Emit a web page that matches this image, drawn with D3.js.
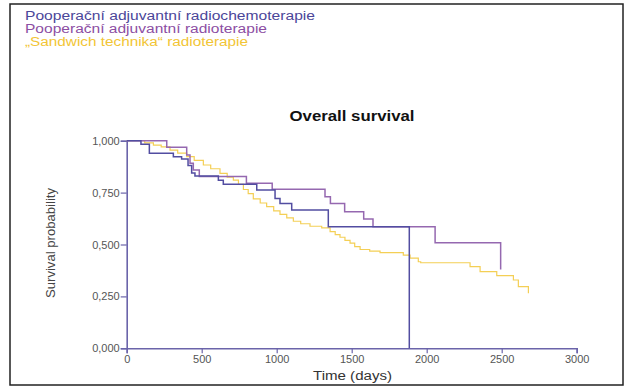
<!DOCTYPE html>
<html><head><meta charset="utf-8">
<script src="https://cdn.jsdelivr.net/npm/d3@7"></script>
<style>body{margin:0;background:#fff}svg{display:block}text{font-family:"Liberation Sans",Arial,sans-serif}</style>
</head><body>
<script>
// ---- data ----
const seriesNames = ["Pooperační adjuvantní radiochemoterapie", "Pooperační adjuvantní radioterapie", "„Sandwich technika“ radioterapie"];
const xTicks = [0, 500, 1000, 1500, 2000, 2500, 3000];
const yTicks = [0, 0.25, 0.5, 0.75, 1];
// Kaplan-Meier steps: [time (days), survival probability after step]
const radiochemo = [[0,1],[95,0.983],[151,0.939],[311,0.923],[366,0.912],[409,0.88],[433,0.845],[455,0.83],[611,0.81],[644,0.79],[867,0.763],[989,0.722],[1022,0.698],[1100,0.666],[1344,0.586],[1884,0.586],[1884,0]];
const radio = [[0,1],[267,0.968],[400,0.931],[422,0.891],[444,0.859],[484,0.827],[798,0.795],[970,0.766],[1322,0.73],[1358,0.697],[1453,0.658],[1580,0.623],[1642,0.586],[2056,0.509],[2493,0.509],[2493,0.38]];
const sandwich = [[0,1],[90,1],[120,0.99],[178,0.979],[230,0.97],[289,0.955],[340,0.94],[400,0.923],[450,0.905],[511,0.883],[560,0.865],[622,0.843],[670,0.825],[711,0.81],[745,0.79],[778,0.765],[810,0.745],[844,0.72],[890,0.70],[933,0.682],[980,0.662],[1022,0.645],[1067,0.628],[1111,0.612],[1160,0.60],[1222,0.588],[1300,0.58],[1356,0.562],[1390,0.548],[1422,0.535],[1455,0.52],[1489,0.507],[1520,0.49],[1556,0.476],[1620,0.468],[1689,0.461],[1844,0.449],[1889,0.434],[1944,0.417],[1960,0.412],[2289,0.393],[2356,0.369],[2467,0.35],[2578,0.329],[2611,0.297],[2678,0.289],[2678,0.265]];
const series = [radiochemo, radio, sandwich];
const colors = ["#524da1", "#9568b0", "#f4cf55"];
const textColors = ["#4b4699", "#8c4ea3", "#f2c535"];

const W = 627, H = 387;
const svg = d3.select("body").append("svg").attr("width", W).attr("height", H);
svg.append("rect").attr("x", 10).attr("y", 4).attr("width", 613).attr("height", 381)
  .attr("fill", "#fff").attr("stroke", "#222").attr("stroke-width", 1.5);

const x = d3.scaleLinear().domain([0, 3000]).range([126.7, 576.7]);
const y = d3.scaleLinear().domain([0, 1]).range([348.3, 140.7]);
const axisColor = "#6b64aa";

// legend
const legendW = [290, 242, 223];
seriesNames.forEach((n, i) => {
  svg.append("text").attr("x", 25).attr("y", 20 + i * 12.8).attr("font-size", 12.5)
    .attr("fill", textColors[i]).attr("textLength", legendW[i]).attr("lengthAdjust", "spacingAndGlyphs").text(n);
});

// title
svg.append("text").attr("x", 352).attr("y", 121).attr("text-anchor", "middle")
  .attr("font-size", 14).attr("font-weight", "bold").attr("fill", "#111")
  .attr("textLength", 125).attr("lengthAdjust", "spacingAndGlyphs").text("Overall survival");

// axes
const fmtY = v => d3.format(".3f")(v).replace(".", ",");
const gx = svg.append("g").attr("transform", `translate(0,${y(0)})`)
  .call(d3.axisBottom(x).tickValues(xTicks).tickFormat(d3.format("d")).tickSizeOuter(0).tickSize(5).tickPadding(2));
const gy = svg.append("g").attr("transform", `translate(${x(0)},0)`)
  .call(d3.axisLeft(y).tickValues(yTicks).tickFormat(fmtY).tickSizeOuter(0).tickSize(6).tickPadding(1));
[gx, gy].forEach(g => {
  g.select(".domain").attr("stroke", axisColor).attr("stroke-width", 1.6);
  g.selectAll(".tick line").attr("stroke", axisColor).attr("stroke-width", 1.2);
  g.selectAll(".tick text").attr("fill", "#555").attr("font-size", 11)
    .attr("font-family", '"Liberation Sans",Arial,sans-serif');
});

// curves
const line = d3.line().x(d => x(d[0])).y(d => y(d[1])).curve(d3.curveStepAfter);
[2, 1, 0].forEach(i => {
  svg.append("path").attr("d", line(series[i])).attr("fill", "none")
    .attr("stroke", colors[i]).attr("stroke-width", i === 2 ? 1.2 : 1.5);
});

// axis labels
svg.append("text").attr("x", 352.5).attr("y", 380).attr("text-anchor", "middle")
  .attr("font-size", 12.5).attr("fill", "#333")
  .attr("textLength", 79).attr("lengthAdjust", "spacingAndGlyphs").text("Time (days)");
svg.append("text").attr("transform", "translate(55,243) rotate(-90)").attr("text-anchor", "middle")
  .attr("font-size", 12.5).attr("fill", "#444")
  .attr("textLength", 110).attr("lengthAdjust", "spacingAndGlyphs").text("Survival probability");
</script>
</body></html>
